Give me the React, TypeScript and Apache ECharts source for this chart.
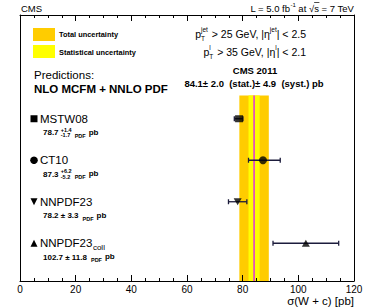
import React, { useEffect, useRef } from "react";
import * as echarts from "echarts";

// ---- data ----
const predNames = ["MSTW08", "CT10", "NNPDF23", "NNPDF23"];
const predSubscript = ["", "", "", "coll"];
const predCentral = [78.7, 87.3, 78.2, 102.7];
const predErrUp = [1.4, 6.2, 3.3, 11.8];
const predErrDown = [1.7, 5.2, 3.3, 11.8];
const rowPos = [2.5, 3.5, 4.5, 5.5];
const measCentral = 84.1;
const measStat = 2.0;
const measSyst = 4.9;
const xTickLabels = ["0", "20", "40", "60", "80", "100", "120"];

// ---- layout / style ----
const FONT = "'Liberation Sans', Arial, Helvetica, sans-serif";
const W = 374;
const H = 308;
const GL = 20, GR = 354, GT = 15, GB = 281;
const Y_MAX = 6.41;
const BAND_TOP = 1.94;
const markerSymbols = ["rect", "circle", "triangle", "triangle"];
const markerRot = [0, 0, 180, 0];
const markerSizes: any[] = [[8, 7], 8, [8, 7], [8, 7]];
const ORANGE = "#ffcc00";
const YELLOW = "#ffff00";
const MAGENTA = "#dd33dd";
const ERR = "#1c1c3c";

let _ctx: CanvasRenderingContext2D | null = null;
function fontStr(size: number, bold?: boolean) {
  return `${bold ? "bold " : ""}${size}px ${FONT}`;
}
function mw(text: string, size: number, bold?: boolean) {
  if (!_ctx) _ctx = document.createElement("canvas").getContext("2d");
  if (!_ctx) return text.length * size * 0.55;
  _ctx.font = fontStr(size, bold);
  return _ctx.measureText(text).width;
}

function pyOf(v: number) {
  return GT + (v / Y_MAX) * (GB - GT);
}

function t(x: number, y: number, text: string, size: number, opts: any = {}) {
  return {
    type: "text",
    x,
    y,
    silent: true,
    style: {
      text,
      font: fontStr(size, opts.bold),
      fill: opts.fill || "#000",
      textAlign: opts.align || "left",
      textVerticalAlign: "middle",
    },
  };
}

type Piece = { t?: string; s?: number; b?: boolean; dy?: number; gap?: number; stack?: Piece[] };

// lays out a chain of text pieces; returns x-start of each piece
function chain(g: any[], x: number, y: number, pieces: Piece[], align: "left" | "right" = "left", defSize = 10, defBold = false) {
  const widths = pieces.map((p) => {
    if (p.stack) return Math.max(...p.stack.map((q) => mw(q.t || "", q.s || defSize, q.b ?? defBold)));
    return mw(p.t || "", p.s || defSize, p.b ?? defBold);
  });
  const total = pieces.reduce((acc, p, i) => acc + widths[i] + (p.gap || 0), 0);
  let cx = align === "right" ? x - total : x;
  const starts: number[] = [];
  pieces.forEach((p, i) => {
    starts.push(cx);
    const items = p.stack ? p.stack : [p];
    items.forEach((q) => {
      g.push(t(cx, y + (q.dy || 0), q.t || "", q.s || defSize, { bold: q.b ?? defBold }));
    });
    cx += widths[i] + (p.gap || 0);
  });
  starts.push(cx);
  return starts;
}

function buildGraphics() {
  const g: any[] = [];
  // header
  g.push(t(21, 8, "CMS", 9.5));
  const hs = chain(
    g,
    354,
    8,
    [{ t: "L = 5.0 fb" }, { t: "-1", s: 6, dy: -3.5 }, { t: " at √" }, { t: "s" }, { t: " = 7 TeV" }],
    "right",
    9.5
  );
  g.push({ type: "line", silent: true, shape: { x1: hs[3], y1: 2.5, x2: hs[4] + 0.5, y2: 2.5 }, style: { stroke: "#000", lineWidth: 0.7 } });

  // legend
  g.push({ type: "rect", silent: true, shape: { x: 33, y: 28, width: 22, height: 13 }, style: { fill: ORANGE } });
  g.push({ type: "rect", silent: true, shape: { x: 33, y: 45, width: 22, height: 13 }, style: { fill: YELLOW } });
  g.push(t(59, 34, "Total uncertainty", 7.4, { bold: true }));
  g.push(t(59, 52, "Statistical uncertainty", 7.4, { bold: true }));

  // cuts
  chain(
    g,
    306,
    34,
    [
      { t: "p" },
      { stack: [{ t: "jet", s: 6.5, dy: -5 }, { t: "T", s: 6.5, dy: 4 }], gap: 1 },
      { t: " > 25 GeV, |η" },
      { t: "jet", s: 6.5, dy: -5 },
      { t: "| < 2.5" },
    ],
    "right",
    10.5
  );
  chain(
    g,
    306,
    52,
    [
      { t: "p" },
      { stack: [{ t: "l", s: 6.5, dy: -5 }, { t: "T", s: 6.5, dy: 4 }], gap: 1 },
      { t: " > 35 GeV, |η" },
      { t: "l", s: 6.5, dy: -5 },
      { t: "| < 2.1" },
    ],
    "right",
    10.5
  );

  // predictions title
  g.push(t(34, 75, "Predictions:", 11.5));
  g.push(t(34, 89, "NLO MCFM + NNLO PDF", 11.5, { bold: true }));

  // measurement
  g.push(t(255, 70, "CMS 2011", 9.5, { bold: true, align: "center" }));
  g.push(
    t(
      254,
      83,
      `${measCentral.toFixed(1)}± ${measStat.toFixed(1)}  (stat.)± ${measSyst.toFixed(1)}  (syst.) pb`,
      9.5,
      { bold: true, align: "center" }
    )
  );

  // row labels
  for (let i = 0; i < predNames.length; i++) {
    const py = pyOf(rowPos[i]);
    if (i === 0) {
      g.push({ type: "rect", silent: true, shape: { x: 30.5, y: py - 3.5, width: 7, height: 7 }, style: { fill: "#000" } });
    } else if (i === 1) {
      g.push({ type: "circle", silent: true, shape: { cx: 34, cy: py, r: 3.8 }, style: { fill: "#000" } });
    } else if (i === 2) {
      g.push({ type: "polygon", silent: true, shape: { points: [[30.5, py - 3.5], [37.5, py - 3.5], [34, py + 3.5]] }, style: { fill: "#000" } });
    } else {
      g.push({ type: "polygon", silent: true, shape: { points: [[30.5, py + 3.5], [37.5, py + 3.5], [34, py - 3.5]] }, style: { fill: "#000" } });
    }
    const ns = chain(g, 40, py, [{ t: predNames[i] }], "left", 11.5);
    if (predSubscript[i]) {
      g.push(t(ns[1] + 0.5, py + 4.5, predSubscript[i], 8));
    }
    const sy = py + 14;
    const c = predCentral[i].toFixed(1);
    if (predErrUp[i] !== predErrDown[i]) {
      chain(
        g,
        43,
        sy,
        [
          { t: c + " " },
          { stack: [{ t: "+" + predErrUp[i].toFixed(1), s: 5.5, dy: -3 }, { t: "-" + predErrDown[i].toFixed(1), s: 5.5, dy: 2.5 }], gap: 3 },
          { t: "PDF", s: 5.5, dy: 3, gap: 3 },
          { t: "pb", dy: -0.5 },
        ],
        "left",
        8,
        true
      );
    } else {
      chain(
        g,
        43,
        sy,
        [
          { t: c + " ± " + predErrUp[i].toFixed(1), gap: 4 },
          { t: "PDF", s: 5.5, dy: 3, gap: 3 },
          { t: "pb", dy: -0.5 },
        ],
        "left",
        8,
        true
      );
    }
  }

  // axis title
  g.push(t(354, 300.5, "σ(W + c) [pb]", 11.5, { align: "right" }));
  return g;
}

export default function App() {
  const ref = useRef<HTMLDivElement>(null);
  useEffect(() => {
    if (!ref.current) return;
    const chart = echarts.init(ref.current, undefined, { renderer: "svg" });
    const total = Math.sqrt(measStat * measStat + measSyst * measSyst);
    const bands = [
      [measCentral - total, measCentral + total, 0],
      [measCentral - measStat, measCentral + measStat, 1],
    ];
    const bandColors = [ORANGE, YELLOW];
    const errData = predCentral.map((c, i) => [c - predErrDown[i], c + predErrUp[i], rowPos[i]]);
    const ptData = predCentral.map((c, i) => ({
      value: [c, rowPos[i]],
      symbol: markerSymbols[i],
      symbolRotate: markerRot[i],
      symbolSize: markerSizes[i],
    }));
    const axisCommon = {
      type: "value",
      min: 0,
      max: 120,
      interval: 20,
      z: 5,
      axisLine: { show: true, onZero: false, lineStyle: { color: "#000", width: 1 } },
      axisTick: { show: true, inside: true, length: 6, lineStyle: { color: "#000", width: 1 } },
      minorTick: { show: true, splitNumber: 4, length: 3, lineStyle: { color: "#000", width: 1 } },
      splitLine: { show: false },
      minorSplitLine: { show: false },
    };
    chart.setOption({
      animation: false,
      backgroundColor: "#fff",
      grid: { left: GL, right: W - GR, top: GT, bottom: H - GB, show: false },
      xAxis: [
        {
          ...axisCommon,
          position: "bottom",
          axisLabel: {
            show: true,
            margin: 3,
            fontSize: 10,
            fontFamily: FONT,
            color: "#000",
            formatter: (v: number) => xTickLabels[Math.round(v / 20)] ?? String(v),
          },
        },
        { ...axisCommon, position: "top", axisLabel: { show: false } },
      ],
      yAxis: [
        {
          type: "value",
          min: 0,
          max: Y_MAX,
          inverse: true,
          z: 5,
          axisLine: { show: true, onZero: false, lineStyle: { color: "#000", width: 1 } },
          axisTick: { show: false },
          axisLabel: { show: false },
          splitLine: { show: false },
        },
        {
          type: "value",
          min: 0,
          max: Y_MAX,
          inverse: true,
          position: "right",
          z: 5,
          axisLine: { show: true, onZero: false, lineStyle: { color: "#000", width: 1 } },
          axisTick: { show: false },
          axisLabel: { show: false },
          splitLine: { show: false },
        },
      ],
      graphic: buildGraphics(),
      series: [
        {
          type: "custom",
          z: 1,
          silent: true,
          data: bands,
          encode: { x: [0, 1] },
          renderItem: (params: any, api: any) => {
            const p0 = api.coord([api.value(0), BAND_TOP]);
            const p1 = api.coord([api.value(1), Y_MAX]);
            return {
              type: "rect",
              shape: { x: p0[0], y: p0[1], width: p1[0] - p0[0], height: p1[1] - p0[1] },
              style: { fill: bandColors[api.value(2)] },
            };
          },
        },
        {
          type: "custom",
          z: 2,
          silent: true,
          data: [[measCentral]],
          encode: { x: 0 },
          renderItem: (params: any, api: any) => {
            const p0 = api.coord([api.value(0), BAND_TOP]);
            const p1 = api.coord([api.value(0), Y_MAX]);
            return {
              type: "line",
              shape: { x1: p0[0], y1: p0[1], x2: p1[0], y2: p1[1] },
              style: { stroke: MAGENTA, lineWidth: 1.5 },
            };
          },
        },
        {
          type: "custom",
          z: 3,
          silent: true,
          data: errData,
          encode: { x: [0, 1], y: 2 },
          renderItem: (params: any, api: any) => {
            const a = api.coord([api.value(0), api.value(2)]);
            const b = api.coord([api.value(1), api.value(2)]);
            const st = { stroke: ERR, lineWidth: 1.3 };
            return {
              type: "group",
              children: [
                { type: "line", shape: { x1: a[0], y1: a[1], x2: b[0], y2: b[1] }, style: st },
                { type: "line", shape: { x1: a[0], y1: a[1] - 2.5, x2: a[0], y2: a[1] + 2.5 }, style: st },
                { type: "line", shape: { x1: b[0], y1: b[1] - 2.5, x2: b[0], y2: b[1] + 2.5 }, style: st },
              ],
            };
          },
        },
        {
          type: "scatter",
          z: 4,
          silent: true,
          data: ptData,
          itemStyle: { color: "#000" },
        },
      ],
    });
    return () => chart.dispose();
  }, []);
  return <div ref={ref} style={{ width: W, height: H, position: "absolute", left: 0, top: 0 }} />;
}
